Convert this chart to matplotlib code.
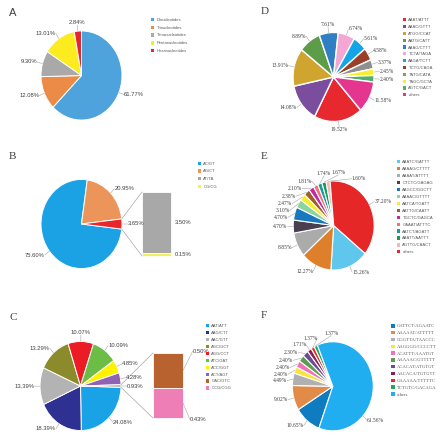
import numpy as np
import matplotlib.pyplot as plt
from matplotlib.patches import Patch

W, H = 448, 441
S = 1.1  # the source image is stretched a little vertically
R = 40.5

# A - repeat type
a_names = ['Dinucleotides', 'Trinucleotides', 'Tetranucleotides', 'Pentanucleotides', 'Hexanucleotides']
a_vals = [61.77, 12.08, 9.30, 13.01, 2.84]
a_cols = ['#4fa3dc', '#ec8b47', '#a9a9a9', '#fbeb1f', '#e3262b']

# B - dinucleotide motifs (last two go in the bar)
b_names = ['AC/GT', 'AG/CT', 'AT/TA', 'CG/CG']
b_vals = [75.60, 20.95, 3.50, 0.15]
b_cols = ['#1ba2e5', '#ec955b', '#a8a8a8', '#f2f060']
b_other_col = '#e8262b'

# C - trinucleotide motifs (last two go in the bar)
c_names = ['AAT/ATT', 'AAG/CTT', 'AAC/GTT', 'AGC/GCT', 'AGG/CCT', 'ATC/GAT',
           'ACC/GGT', 'ACT/AGT', 'GAC/GTC', 'CCG/CGG']
c_vals = [24.08, 18.39, 13.39, 13.29, 10.07, 10.09, 4.85, 4.28, 0.50, 0.43]
c_cols = ['#19a3e6', '#2f3192', '#b3b3b3', '#8c8b2c', '#ec1c24', '#6cbd45',
          '#fff200', '#8f62b3', '#b7622f', '#ee7eb6']
c_other_col = '#a5a5a5'

# D - tetranucleotide motifs
d_names = ['AAAT/ATTT', 'AAAC/GTTT', 'ATGG/CCAT', 'AATG/CATT', 'AAAG/CTTT', 'TCTA/TAGA',
           'AAGA/TCTT', 'TCTG/CAGA', 'TATG/CATA', 'TAGC/GCTA', 'AGTC/GACT', 'others']
d_vals = [19.52, 14.08, 13.91, 8.89, 7.61, 6.74, 5.61, 4.58, 3.37, 2.45, 2.40, 11.58]
d_cols = ['#e8282f', '#7b4d9e', '#cfa530', '#5d9c49', '#2f7fc2', '#f4a7d2',
          '#14a5e6', '#9a3f28', '#8f8f8f', '#f7ee2e', '#4db06b', '#e4358f']

# E - pentanucleotide motifs
e_names = ['AAATC/GATTT', 'AAAAG/CTTTT', 'AAAAT/ATTTT', 'CTCTC/GAGAG', 'AAGCC/GGCTT',
           'AAAAC/GTTTT', 'AATCA/TGATT', 'AATTG/CAATT', 'TGCTC/GAGCA', 'GAAAT/ATTTC',
           'AATCT/AGATT', 'AAATT/AATTT', 'AGTTG/CAACT', 'others']
e_vals = [15.26, 12.27, 8.85, 4.70, 4.70, 3.10, 2.47, 2.38, 2.10, 1.81, 1.74, 1.67, 1.60, 37.20]
e_cols = ['#5fc6ec', '#de7f2b', '#ababab', '#4a3f50', '#1979c0', '#8cd49e', '#f5eb2f',
          '#9f5c2a', '#c42aa0', '#ef7378', '#1b9aa0', '#0f9d58', '#f3b7b7', '#e62727']

# F - hexanucleotide motifs
f_names = ['GATTCT/AGAATC', 'AAAAAT/ATTTTT', 'GGGTTA/TAACCC', 'AAGGGG/CCCCTT',
           'ACATTT/AAATGT', 'AAAAAC/GTTTTT', 'ACACAT/ATGTGT', 'AACACA/TGTGTT',
           'GAAAAA/TTTTTC', 'TCTGTC/GACAGA', 'others']
f_vals = [10.65, 9.02, 4.49, 2.40, 2.40, 2.40, 2.30, 1.71, 1.37, 1.37, 61.56]
f_cols = ['#0f7bc0', '#e28b49', '#b0b0b0', '#f9e43a', '#ee75b5', '#5e9a4f',
          '#6b4c9a', '#8a1f55', '#e32b2b', '#22a65a', '#20aef0']

SANS = 'Liberation Sans'
SERIF = 'Liberation Serif'
TXT = '#404040'
LINE = '#a6a6a6'

fig = plt.figure(figsize=(W / 100, H / 100), dpi=100)
ax = fig.add_axes([0, 0, 1, 1])


def yd(y):
    return (H - y) / S


def pie(vals, cols, cx, cy, start, lw=0.7):
    w, _ = ax.pie(vals, colors=cols, center=(cx, yd(cy)), radius=R, startangle=start,
                  counterclock=False, wedgeprops=dict(edgecolor='white', linewidth=lw))
    return w


def labels(wedges, texts, fam, fs=4.2, dist=1.14, fix=None):
    mids = []
    for w in wedges:
        m = ((w.theta1 + w.theta2) / 2) % 360
        if m >= 270:
            m -= 360
        mids.append(m)
    idx = np.argsort(mids)
    a = np.array(mids, dtype=float)[idx]
    # push crowded labels apart
    for _ in range(300):
        for k in range(len(a) - 1):
            mean = np.radians((a[k] + a[k + 1]) / 2)
            gap = 7 + 11 * np.sin(mean) ** 2
            d = a[k + 1] - a[k]
            if d < gap:
                a[k] -= (gap - d) / 2
                a[k + 1] += (gap - d) / 2
    lab = np.empty(len(a))
    lab[idx] = a
    for i, ang in (fix or {}).items():
        mids[i] = lab[i] = ang
    for w, t, m, l in zip(wedges, texts, mids, lab):
        cx, cy = w.center
        tm, tl = np.radians(m), np.radians(l)
        c, s = np.cos(tl), np.sin(tl)
        if c > 0.3:
            ha, va, rp = 'left', 'center', (0, 0.5)
        elif c < -0.3:
            ha, va, rp = 'right', 'center', (1, 0.5)
        elif s > 0:
            ha, va, rp = 'center', 'bottom', (0.5, 0)
        else:
            ha, va, rp = 'center', 'top', (0.5, 1)
        ax.annotate(t, xy=(cx + R * np.cos(tm), cy + R * np.sin(tm)),
                    xytext=(cx + dist * R * c, cy + dist * R * s),
                    ha=ha, va=va, fontsize=fs, family=fam, color=TXT,
                    arrowprops=dict(arrowstyle='-', color=LINE, lw=0.4, shrinkA=0,
                                    shrinkB=0, patchA=None, relpos=rp))


def bar_of_pie(wedge, vals, cols, x0, y0, x1, y1):
    tot = sum(vals)
    bottom = yd(y1)
    segs = []
    for v, c in reversed(list(zip(vals, cols))):
        h = v / tot * (y1 - y0) / S
        ax.bar((x0 + x1) / 2, h, width=x1 - x0, bottom=bottom, color=c,
               edgecolor='white', linewidth=0.6)
        segs.append((bottom, h))
        bottom += h
    cx, cy = wedge.center
    t1, t2 = np.radians(wedge.theta1), np.radians(wedge.theta2)
    ax.plot([cx + R * np.cos(t2), x0], [cy + R * np.sin(t2), yd(y0)], color=LINE, lw=0.5)
    ax.plot([cx + R * np.cos(t1), x0], [cy + R * np.sin(t1), yd(y1)], color=LINE, lw=0.5)
    return segs[::-1]


def legend(names, cols, x, y, pitch, fam, fs=3.0):
    px = fs * 100 / 72
    ls = (pitch - 1.17 * px) / px
    hs = [Patch(facecolor=c, edgecolor='none', label=n) for n, c in zip(names, cols)]
    fig.legend(handles=hs, loc='upper left', bbox_to_anchor=(x / W, 1 - (y - pitch / 2) / H),
               frameon=False, handlelength=0.8, handleheight=0.8, handletextpad=0.5,
               labelspacing=ls, borderpad=0, borderaxespad=0, labelcolor='#595959',
               prop={'family': fam, 'size': fs})


def pct(vals):
    return ['%.2f%%' % v for v in vals]


# A
w = pie(a_vals, a_cols, 81.5, 75.5, 90)
labels(w, pct(a_vals), SANS)
legend(a_names, a_cols, 151, 22, 8.75, SANS)
ax.text(9, yd(13), 'A', fontsize=8, family=SANS, color='#404040', va='center')

# B
b_other = sum(b_vals[2:])
b_pv = b_vals[:2] + [b_other]
w = pie(b_pv, b_cols[:2] + [b_other_col], 81.5, 224, -180 * b_other / sum(b_pv))
labels(w, pct(b_pv), SANS)
segs = bar_of_pie(w[-1], b_vals[2:], b_cols[2:], 142, 192, 171, 256)
for (bt, h), t in zip(segs, pct(b_vals[2:])):
    ax.text(175, bt + h / 2, t, fontsize=4.2, family=SANS, color=TXT, va='center')
legend(b_names, b_cols, 198, 166, 8.4, SANS)
ax.text(9, yd(157), 'B', fontsize=8, family=SERIF, color='#404040', va='center')

# C
c_other = sum(c_vals[8:])
c_pv = c_vals[:8] + [c_other]
w = pie(c_pv, c_cols[:8] + [c_other_col], 80.5, 386, -180 * c_other / sum(c_pv))
labels(w, pct(c_pv), SANS)
segs = bar_of_pie(w[-1], c_vals[8:], c_cols[8:], 153, 353, 183, 418)
offs = [(7, 14), (5, -12)]
for (bt, h), t, o in zip(segs, pct(c_vals[8:]), offs):
    ax.annotate(t, xy=(183, bt + h / 2), xytext=o, textcoords='offset points',
                fontsize=4.2, family=SANS, color=TXT, ha='left', va='center',
                arrowprops=dict(arrowstyle='-', color=LINE, lw=0.4, shrinkA=0, shrinkB=0,
                                patchA=None, relpos=(0, 0.5)))
legend(c_names, c_cols, 206, 328, 7.75, SANS)
ax.text(9, yd(317), 'C', fontsize=8, family=SERIF, color='#404040', va='center')

# D
w = pie(d_vals, d_cols, 333.5, 77, -48, lw=1.0)
labels(w, pct(d_vals), SERIF, fs=4.0)
legend(d_names, d_cols, 403, 22, 7.66, SANS)
ax.text(261, yd(12), 'D', fontsize=8, family=SERIF, color='#404040', va='center')

# E
w = pie(e_vals, e_cols, 333.7, 225.5, -39, lw=0.8)
labels(w, pct(e_vals), SERIF, fs=4.0)
legend(e_names, e_cols, 397, 164, 7.77, SANS)
ax.text(261, yd(157), 'E', fontsize=8, family=SERIF, color='#404040', va='center')

# F
w = pie(f_vals, f_cols, 332.8, 386.3, -110, lw=0.8)
labels(w, pct(f_vals), SERIF, fs=4.0, fix={10: -42})
legend(f_names, f_cols, 391, 328, 7.83, SERIF, fs=3.3)
ax.text(261, yd(316), 'F', fontsize=8, family=SERIF, color='#404040', va='center')

ax.set_xlim(0, W)
ax.set_ylim(0, H / S)
ax.set_aspect('auto')
ax.axis('off')

plt.savefig('out.png', dpi=100)
